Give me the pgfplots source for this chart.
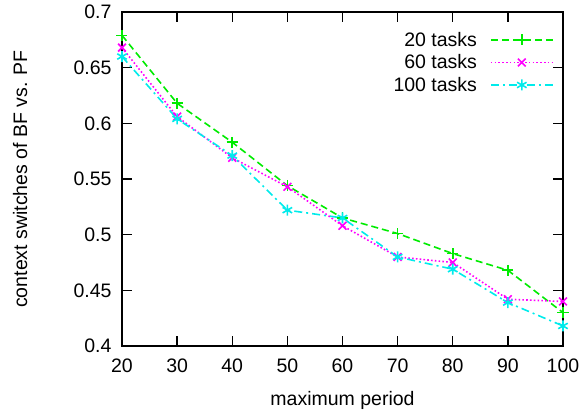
\documentclass[border=0pt]{standalone}
\usepackage{fontspec}
\setmainfont{Liberation Sans}
\usepackage{pgfplots}
\pgfplotsset{compat=1.18}
\definecolor{lgreen}{RGB}{0,235,0}
\definecolor{lmagenta}{RGB}{255,0,255}
\definecolor{lcyan}{RGB}{0,235,235}
\newcommand{\chartfont}{\fontsize{19.5}{22}\selectfont}
\newcommand{\entry}[1]{\raisebox{0pt}[14pt][4pt]{#1}}
\begin{document}
\begin{tikzpicture}
\begin{axis}[
  name=main,
  scale only axis,
  width=441pt, height=334pt,
  xmin=20, xmax=100, ymin=0.4, ymax=0.7,
  xtick={20,30,...,100},
  ytick={0.4,0.45,...,0.71},
  yticklabel style={/pgf/number format/fixed,/pgf/number format/precision=2},
  /pgf/number format/assume math mode=true,
  tick align=inside,
  major tick length=10pt,
  tick style={black, line width=1.3pt},
  axis line style={line width=1.8pt},
  every tick label/.append style={font=\chartfont},
  label style={font=\chartfont},
  xticklabel style={yshift=-9.5pt},
  yticklabel style={xshift=-7pt},
  xlabel={maximum period},
  ylabel={context switches of BF vs. PF},
  xlabel style={at={(axis description cs:0.5,-0.162)}, anchor=center},
  ylabel style={at={(axis description cs:-0.231,0.5)}, anchor=center},
  legend style={draw=none, fill=none, at={(0.986,0.952)}, anchor=north east,
    font=\chartfont, row sep=3pt, column sep=11pt},
  legend cell align=right,
  legend plot pos=right,
  legend image code/.code={
    \draw[mark repeat=2,mark phase=2] plot coordinates {(0pt,0pt)(31pt,0pt)(62pt,0pt)};},
  every axis plot/.append style={line width=1.6pt, mark size=5.5pt},
]
\addplot[color=lgreen, dash pattern=on 7pt off 4pt, mark=+, mark options={solid}]
  coordinates {(20,0.679)(30,0.618)(40,0.583)(50,0.544)(60,0.515)(70,0.501)(80,0.483)(90,0.468)(100,0.430)};
\addlegendentry{\entry{20 tasks}}
\addplot[color=lmagenta, dash pattern=on 1.6pt off 2.2pt, mark=x, mark options={solid}]
  coordinates {(20,0.668)(30,0.606)(40,0.569)(50,0.543)(60,0.508)(70,0.480)(80,0.475)(90,0.442)(100,0.440)};
\addlegendentry{\entry{60 tasks}}
\addplot[color=lcyan, dash pattern=on 8pt off 4pt on 2pt off 4pt, mark=asterisk, mark options={solid}]
  coordinates {(20,0.660)(30,0.604)(40,0.571)(50,0.522)(60,0.515)(70,0.480)(80,0.469)(90,0.439)(100,0.418)};
\addlegendentry{\entry{100 tasks}}
\end{axis}
% white margin around the axis
\path ([shift={(-122pt,-71pt)}]main.south west) rectangle ([shift={(22pt,12pt)}]main.north east);
\end{tikzpicture}
\end{document}
